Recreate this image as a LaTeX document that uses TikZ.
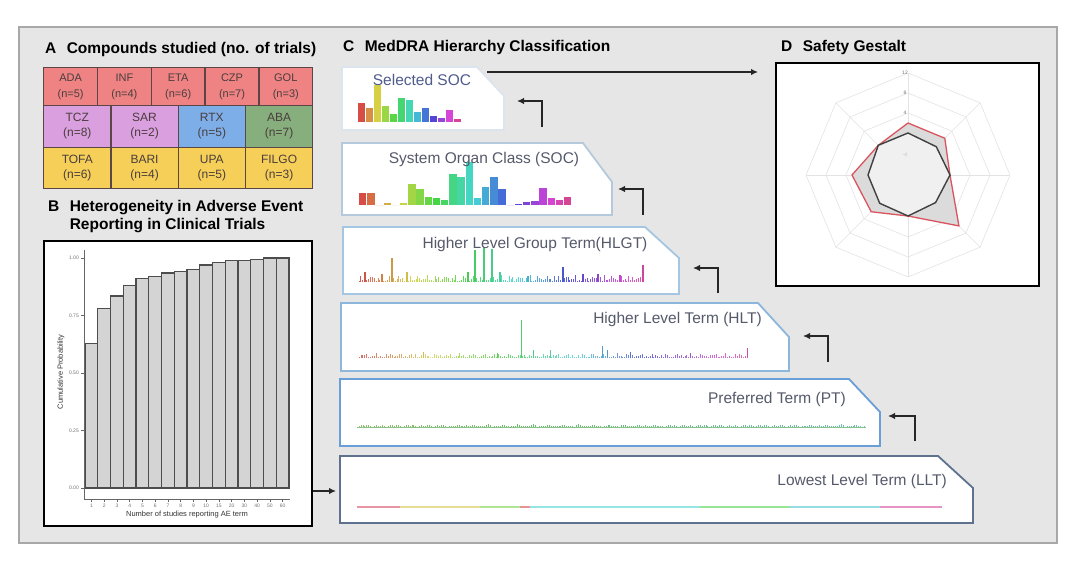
\documentclass[tikz,border=0pt]{standalone}
\usepackage{fontspec}
\setmainfont{Liberation Sans}
\usetikzlibrary{arrows.meta,positioning}

\definecolor{framefill}{HTML}{E6E6E6}
\definecolor{frameedge}{HTML}{A8A8A8}
\definecolor{rowred}{HTML}{EF8383}
\definecolor{rowviolet}{HTML}{DA9FDE}
\definecolor{rowblue}{HTML}{7EAEE8}
\definecolor{rowgreen}{HTML}{87AE7D}
\definecolor{rowyellow}{HTML}{F5CF58}
\definecolor{celledge}{HTML}{5B4646}
\definecolor{celltext}{HTML}{4A3D3D}
\definecolor{levelgray}{HTML}{555A6B}
\definecolor{levelblue}{HTML}{4F5C8C}
\definecolor{barfill}{HTML}{D4D4D4}
\definecolor{baredge}{HTML}{4D4D4D}
\definecolor{gridgray}{HTML}{E3E3E3}
\definecolor{gestaltred}{HTML}{D9545E}
\definecolor{edgeA}{HTML}{DCE5EE}
\definecolor{edgeB}{HTML}{B5C9DC}
\definecolor{edgeC}{HTML}{A4C6E2}
\definecolor{edgeD}{HTML}{8DB6DD}
\definecolor{edgeE}{HTML}{6A9ED8}
\definecolor{edgeF}{HTML}{5E7290}

\tikzset{
  letter/.style={font=\fontsize{15.5}{18}\selectfont\bfseries, inner sep=0pt, anchor=base west},
  heading/.style={font=\fontsize{15.5}{18}\selectfont\bfseries, inner sep=0pt},
  cell/.style={draw=celledge, line width=1.4pt, text=celltext, align=center, inner sep=0pt, anchor=north west},
  cellA/.style={cell, minimum width=53.8pt, minimum height=38pt, font=\fontsize{11}{16}\selectfont},
  cellB/.style={cell, minimum width=67.25pt, minimum height=41.5pt, font=\fontsize{12}{15}\selectfont},
  levelbox/.style={line width=1.8pt, fill=white},
  leveltitle/.style={font=\fontsize{15.5}{18}\selectfont, text=levelgray, inner sep=0pt},
  bar/.style={draw=baredge, fill=barfill, line width=1.2pt},
  ticklab/.style={font=\fontsize{5}{6}\selectfont, text=black!55, inner sep=0pt},
  axislab/.style={font=\fontsize{7.5}{9}\selectfont, text=black!80, inner sep=0pt},
  link/.style={-{Latex[length=7pt,width=6.5pt]}, line width=2pt, black!85},
}

\begin{document}
\begin{tikzpicture}[x=1pt, y=-1pt]
\useasboundingbox (0,0) rectangle (1080,562);
\fill[white] (0,0) rectangle (1080,562);
\draw[frameedge, line width=2.5pt, fill=framefill] (19,27) rectangle (1057,543);

% A: compounds table
\node[letter] (la) at (45,53) {A};
\node[heading, right=10pt of la.base east, anchor=base west] (ta) {Compounds studied (no. of trials)};
\foreach \name/\n [count=\i from 0] in {ADA/5,INF/4,ETA/6,CZP/7,GOL/3}
  \node[cellA, fill=rowred] (ra\i) at (43+53.8*\i,67) {\name\\(n=\n)};
\foreach \name/\n/\col [count=\i from 0] in {TCZ/8/rowviolet,SAR/2/rowviolet,RTX/5/rowblue,ABA/7/rowgreen}
  \node[cellB, fill=\col] (rb\i) at (43+67.25*\i,105) {\name\\(n=\n)};
\foreach \name/\n [count=\i from 0] in {TOFA/6,BARI/4,UPA/5,FILGO/3}
  \node[cellB, fill=rowyellow] (rc\i) at (43+67.25*\i,146.5) {\name\\(n=\n)};

% B: cumulative probability chart
\node[letter] (lb) at (48,211) {B};
\node[heading, right=10pt of lb.base east, anchor=base west] (tb) {Heterogeneity in Adverse Event};
\node[heading, anchor=base west] (tb2) at ([yshift=-18pt]tb.base west) {Reporting in Clinical Trials};
\node[draw, line width=2pt, fill=white, minimum width=268pt, minimum height=285pt, anchor=north west, inner sep=0pt] (hetero) at (43,240) {};
\foreach \v [count=\i from 0] in {0.63,0.78,0.835,0.88,0.91,0.92,0.935,0.94,0.95,0.97,0.98,0.99,0.99,0.995,1,1}
  \draw[bar] (85+12.75*\i,488) rectangle ++(12.75,-230*\v);
\draw[black!60, line width=0.8pt] (84,250) -- (84,499) -- (290,499);
\foreach \v/\lab [count=\i] in {0/0.00,0.25/0.25,0.5/0.50,0.75/0.75,1/1.00} {
  \draw[black!60, line width=0.6pt] (84,488-230*\v) -- ++(-3,0);
  \node[ticklab, anchor=east] (yt\i) at (79,488-230*\v) {\lab};
}
\foreach \lab [count=\i from 0] in {1,2,3,4,5,6,7,8,9,10,15,20,30,40,50,60} {
  \draw[black!60, line width=0.6pt] (91.4+12.75*\i,499) -- ++(0,3);
  \node[ticklab] (xt\i) at (91.4+12.75*\i,506) {\lab};
}
\node[axislab, rotate=90] (ylab) at (61,372) {Cumulative Probability};
\node[axislab] (xlab) at (187,515) {Number of studies reporting AE term};

% C: MedDRA levels
\node[letter] (lc) at (343,51) {C};
\node[heading, right=10pt of lc.base east, anchor=base west] (tc) {MedDRA Hierarchy Classification};

\draw[levelbox, draw=edgeA] (342,67) -- (477,67) -- (504,96) -- (504,130) -- (342,130) -- cycle;
\draw[levelbox, draw=edgeB] (342,143) -- (583,143) -- (612,182) -- (612,215) -- (342,215) -- cycle;
\draw[levelbox, draw=edgeC] (343,227) -- (645,227) -- (679,258) -- (679,294) -- (343,294) -- cycle;
\draw[levelbox, draw=edgeD] (341,303) -- (758,303) -- (789,337) -- (789,371) -- (341,371) -- cycle;
\draw[levelbox, draw=edgeE] (340,379) -- (849,379) -- (880,412) -- (880,446) -- (340,446) -- cycle;
\draw[levelbox, draw=edgeF] (340,456) -- (938,456) -- (973,488) -- (973,523) -- (340,523) -- cycle;

% selected SOC bars
\foreach \h [count=\i from 0] in {19,14,37,16,8,24,22,10,14,6,4,12,3} {
  \pgfmathsetmacro\hu{0.01+0.9*\i/12}
  \definecolor{spk}{hsb}{\hu,0.68,0.84}
  \fill[spk] (358+8*\i,122) rectangle ++(7.2,-\h);
}
% SOC bars
\foreach \h [count=\i from 0] in {12,12,0,2,0,2,21,16,8,7,5,31,28,43,7,18,28,16,0,1,3,4,17,7,5,8} {
  \pgfmathsetmacro\hu{0.01+0.9*\i/25}
  \definecolor{spk}{hsb}{\hu,0.68,0.84}
  \fill[spk] (359+8.2*\i,205) rectangle ++(7.4,-\h);
}
% HLGT spikes
\foreach \i in {0,...,149} {
  \pgfmathsetmacro\hu{0.9*\i/150}
  \pgfmathsetmacro\hh{1+6*abs(sin(\i*83))*abs(sin(\i*37+20))}
  \definecolor{spk}{hsb}{\hu,0.6,0.85}
  \draw[spk, line width=0.9pt] (359+1.9*\i,282) -- ++(0,-\hh);
}
\foreach \xs/\hh in {365/10,382/8,392/24,407/10,468/10,475/32,484/35,492/33,500/10,528/6,563/15,583/8,598/8,620/7,643/17} {
  \pgfmathsetmacro\hu{0.9*(\xs-359)/285}
  \definecolor{spk}{hsb}{\hu,0.65,0.8}
  \draw[spk, line width=1.1pt] (\xs,282) -- ++(0,-\hh);
}
% HLT spikes
\foreach \i in {0,...,199} {
  \pgfmathsetmacro\hu{0.9*\i/200}
  \pgfmathsetmacro\hh{0.6+4*abs(sin(\i*71))*abs(sin(\i*29+10))}
  \definecolor{spk}{hsb}{\hu,0.5,0.85}
  \draw[spk, line width=0.8pt] (359+1.94*\i,358) -- ++(0,-\hh);
}
\foreach \xs/\hh in {423/6,497/5,521/38,533/8,550/8,602/12,607/8,630/6,690/5,747/10} {
  \pgfmathsetmacro\hu{0.9*(\xs-359)/390}
  \definecolor{spk}{hsb}{\hu,0.6,0.8}
  \draw[spk, line width=1pt] (\xs,358) -- ++(0,-\hh);
}
% PT spikes
\draw[green!30!gray!70, line width=0.8pt] (357,427) -- (866,427);
\foreach \i in {0,...,259} {
  \pgfmathsetmacro\hu{0.25+0.25*\i/260}
  \pgfmathsetmacro\hh{0.4+2.2*abs(sin(\i*47))*abs(sin(\i*23+5))}
  \definecolor{spk}{hsb}{\hu,0.45,0.75}
  \draw[spk, line width=0.7pt] (357+1.96*\i,427) -- ++(0,-\hh);
}
% LLT line
\foreach \xa/\xb/\hu in {357/400/0.97,400/480/0.15,480/520/0.28,520/530/0.0,530/700/0.5,700/790/0.33,790/880/0.52,880/942/0.9} {
  \definecolor{spk}{hsb}{\hu,0.35,0.9}
  \draw[spk, line width=1.2pt] (\xa,507) -- (\xb,507);
}

\node[leveltitle, text=levelblue, anchor=base] (tsel) at (422,85) {Selected SOC};
\node[leveltitle, anchor=base] (tsoc) at (484,163) {System Organ Class (SOC)};
\node[leveltitle, anchor=base] (thlgt) at (535,248) {Higher Level Group Term(HLGT)};
\node[leveltitle, anchor=base east] (thlt) at (762,323) {Higher Level Term (HLT)};
\node[leveltitle, anchor=base east] (tpt) at (846,403) {Preferred Term (PT)};
\node[leveltitle, anchor=base east] (tllt) at (947,485) {Lowest Level Term (LLT)};

% elbow arrows between levels
\foreach \xv/\yt/\yb/\xt [count=\k] in {542/101/127/517,643/189/215/618,718/268/293/693,828/336/362/803,915/416/441/888} {
  \coordinate (up\k) at (\xv,\yb);
  \coordinate (tip\k) at (\xt,\yt);
  \draw[link] (up\k) |- (tip\k);
}

% D: safety gestalt
\node[letter] (ld) at (781,51) {D};
\node[heading, right=10pt of ld.base east, anchor=base west] (td) {Safety Gestalt};
\node[draw, line width=2pt, fill=white, minimum width=263pt, minimum height=223pt, anchor=north west, inner sep=0pt] (gestalt) at (775,62) {};
\begin{scope}[shift={(908,175)}, yscale=-1]
  \foreach \r in {22,42,62,82,102}
    \draw[gridgray, line width=0.6pt] (90:\r) \foreach \a in {135,180,...,405} { -- (\a:\r) } -- cycle;
  \foreach \a in {90,135,...,450}
    \draw[gridgray, line width=0.5pt] (0,0) -- (\a:102);
  \draw[gestaltred, line width=1.3pt, fill=black!14] (90:52) -- (45:52) -- (0:42) -- (-45:72) -- (-90:41) -- (-135:52) -- (180:56) -- (135:42) -- cycle;
  \draw[black!75, line width=1.4pt, fill=black!6] (90:42) -- (45:40) -- (0:42) -- (-45:39) -- (-90:41) -- (-135:40) -- (180:40) -- (135:42) -- cycle;
  \node[ticklab] (g12) at (-3,102) {12};
  \node[ticklab] (g8) at (-3,82) {8};
  \node[ticklab] (g4) at (-3,62) {4};
  \node[ticklab, text=black!25] (g0) at (-3,20) {-4};
\end{scope}

% links into D and from B
\coordinate (selout) at (487,72);
\draw[link, shorten >=17pt] (selout) -- (selout -| gestalt.west);
\coordinate (lltin) at (336,491);
\draw[link] (lltin -| hetero.east) -- (lltin);
\end{tikzpicture}
\end{document}
